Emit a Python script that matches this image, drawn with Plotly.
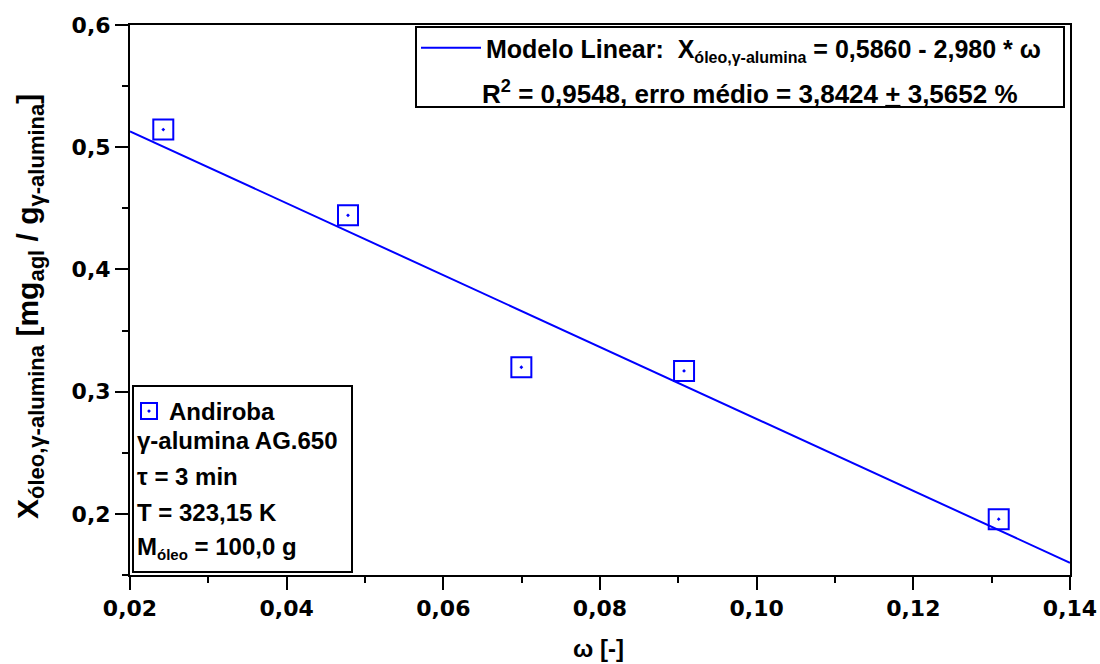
import plotly.graph_objects as go

# data
omega = [0.02425, 0.04783, 0.06996, 0.09073, 0.1309]
x_oleo = [0.5144, 0.4443, 0.3200, 0.3170, 0.1957]
fit_x = [0.02, 0.14]
fit_y = [0.513, 0.160]

x_ticks = [0.02, 0.04, 0.06, 0.08, 0.10, 0.12, 0.14]
y_ticks = [0.2, 0.3, 0.4, 0.5, 0.6]

FONT = "Liberation Sans"
TICKFONT = "DejaVu Sans"
BLUE = "#0000ff"


def px(x):
    return (x - 130) / 940


def py(y):
    return (575 - y) / 550


fig = go.Figure()
fig.add_trace(go.Scatter(
    x=fit_x, y=fit_y, mode="lines",
    line=dict(color=BLUE, width=2),
    name="<b>Modelo Linear:  X<sub><span style='font-size:16px'>óleo,γ-alumina</span></sub> = 0,5860 - 2,980 * ω</b>",
    legend="legend",
))
fig.add_trace(go.Scatter(
    x=omega, y=x_oleo, mode="markers",
    marker=dict(symbol="square-open-dot", size=20, color=BLUE, line=dict(width=2, color=BLUE)),
    name="<b>Andiroba</b>",
    legend="legend2",
))

# boxes
fig.add_shape(type="rect", xref="paper", yref="paper",
              x0=px(416), x1=px(1064), y0=py(107), y1=py(27),
              line=dict(color="black", width=2), fillcolor="white", layer="below")
fig.add_shape(type="rect", xref="paper", yref="paper",
              x0=px(133), x1=px(352), y0=py(572), y1=py(386),
              line=dict(color="black", width=2), fillcolor="white", layer="below")

fig.add_annotation(text="<b>R<sup>2</sup> = 0,9548, erro médio = 3,8424 <u>+</u> 3,5652 %</b>",
                   xref="paper", yref="paper", x=px(480), y=py(92),
                   xanchor="left", yanchor="middle", showarrow=False,
                   font=dict(family=FONT, size=26, color="black"))

info_lines = [
    "<b>γ-alumina AG.650</b>",
    "<b>τ = 3 min</b>",
    "<b>T = 323,15 K</b>",
    "<b>M<sub><span style='font-size:15px'>óleo</span></sub> = 100,0 g</b>",
]
info_y = [440, 476, 512, 548]
for t, yy in zip(info_lines, info_y):
    fig.add_annotation(text=t, xref="paper", yref="paper",
                       x=px(135), y=py(yy),
                       xanchor="left", yanchor="middle", showarrow=False,
                       font=dict(family=FONT, size=24, color="black"))

# axis titles
fig.add_annotation(
    text="<b>X<sub><span style='font-size:22px'>óleo,γ-alumina</span></sub> [mg<sub><span style='font-size:22px'>agl</span></sub>"
         " / g<sub><span style='font-size:22px'>γ-alumina</span></sub>]</b>",
    xref="paper", yref="paper", x=px(30), y=py(307),
    xanchor="center", yanchor="middle", textangle=-90, showarrow=False,
    font=dict(family=FONT, size=30, color="black"))
fig.add_annotation(text="<b>ω [-]</b>", xref="paper", yref="paper",
                   x=px(598), y=py(648),
                   xanchor="center", yanchor="middle", showarrow=False,
                   font=dict(family=FONT, size=24, color="black"))

axis_common = dict(
    showline=True, linecolor="black", linewidth=2, mirror=True,
    ticks="outside", ticklen=13, tickwidth=2, tickcolor="black",
    showgrid=False, zeroline=False,
    tickfont=dict(family=TICKFONT, size=22, color="black", weight="bold"),
)
fig.update_xaxes(range=[0.02, 0.14], tickvals=x_ticks, tickformat=".2f",
                 minor=dict(ticks="outside", ticklen=6, tickwidth=2, tickcolor="black", dtick=0.01, tick0=0.02),
                 **axis_common)
fig.update_yaxes(range=[0.15, 0.6], tickvals=y_ticks, tickformat=".1f",
                 minor=dict(ticks="outside", ticklen=6, tickwidth=2, tickcolor="black", dtick=0.05, tick0=0.15),
                 **axis_common)

fig.update_layout(
    width=1100, height=664,
    margin=dict(l=130, r=30, t=25, b=89, autoexpand=False),
    plot_bgcolor="white", paper_bgcolor="white",
    separators=",.",
    legend=dict(x=px(416), y=py(25), xanchor="left", yanchor="top",
                bgcolor="rgba(0,0,0,0)", borderwidth=0, valign="middle",
                font=dict(family=FONT, size=25, color="black"),
                itemwidth=60, tracegroupgap=0),
    legend2=dict(x=px(129), y=py(389), xanchor="left", yanchor="top",
                 bgcolor="rgba(0,0,0,0)", borderwidth=0,
                 font=dict(family=FONT, size=24, color="black"),
                 itemwidth=30),
    showlegend=True,
)

fig.write_html("out.html", config={"displayModeBar": False},
               post_script="document.body.style.margin='0';document.body.style.overflow='hidden';")
